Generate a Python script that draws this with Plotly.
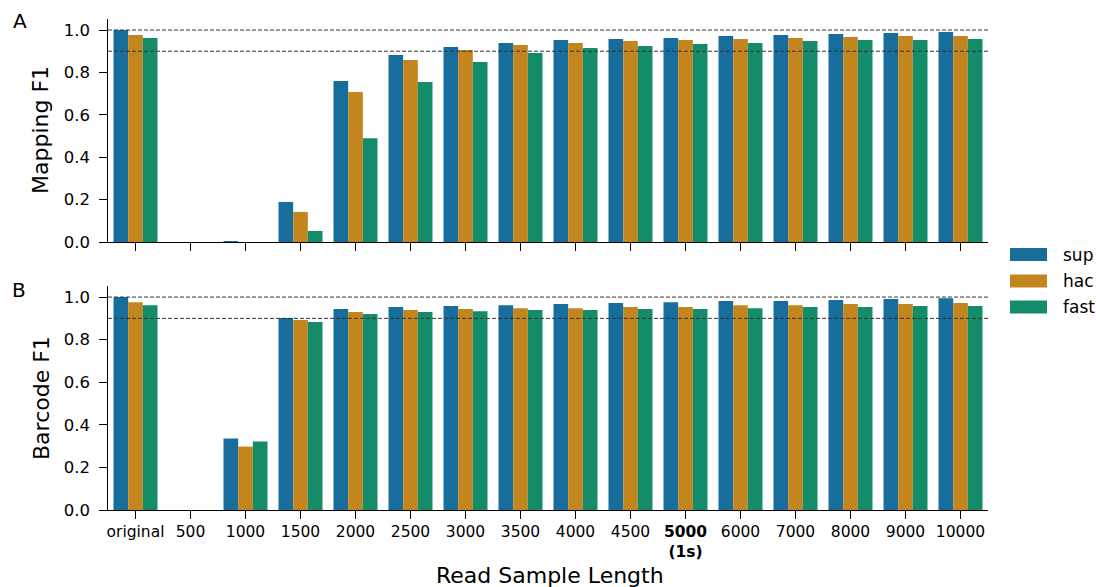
import plotly.graph_objects as go

categories = ["original", "500", "1000", "1500", "2000", "2500", "3000", "3500", "4000",
              "4500", "5000", "6000", "7000", "8000", "9000", "10000"]
tick_labels = ["original", "500", "1000", "1500", "2000", "2500", "3000", "3500", "4000",
               "4500", "<b>5000</b><br><b>(1s)</b>", "6000", "7000", "8000", "9000", "10000"]
series_names = ["sup", "hac", "fast"]
series_colors = ["#176d9c", "#c3861f", "#148c69"]

mapping_sup = [1.000, 0.0, 0.004, 0.189, 0.759, 0.882, 0.920, 0.939, 0.953, 0.958, 0.962, 0.972, 0.976, 0.981, 0.986, 0.991]
mapping_hac = [0.976, 0.0, 0.0, 0.142, 0.708, 0.858, 0.906, 0.929, 0.939, 0.948, 0.953, 0.958, 0.962, 0.967, 0.972, 0.972]
mapping_fast = [0.962, 0.0, 0.0, 0.052, 0.490, 0.755, 0.849, 0.892, 0.915, 0.925, 0.934, 0.939, 0.948, 0.953, 0.953, 0.958]

barcode_sup = [1.000, 0.0, 0.336, 0.902, 0.944, 0.953, 0.958, 0.962, 0.967, 0.972, 0.976, 0.981, 0.981, 0.986, 0.991, 0.995]
barcode_hac = [0.976, 0.0, 0.298, 0.892, 0.930, 0.939, 0.944, 0.948, 0.948, 0.953, 0.953, 0.962, 0.962, 0.967, 0.967, 0.972]
barcode_fast = [0.962, 0.0, 0.322, 0.883, 0.920, 0.930, 0.934, 0.939, 0.939, 0.944, 0.944, 0.948, 0.953, 0.953, 0.958, 0.958]

ref_lines = [1.0, 0.9]
y_ticks = [0.0, 0.2, 0.4, 0.6, 0.8, 1.0]

W, H = 1096, 587
FONT = "DejaVu Sans"

fig = go.Figure()
mapping = [mapping_sup, mapping_hac, mapping_fast]
barcode = [barcode_sup, barcode_hac, barcode_fast]
for i, name in enumerate(series_names):
    fig.add_trace(go.Bar(x=categories, y=mapping[i], name=name, marker_color=series_colors[i],
                         marker_line_width=0, xaxis="x", yaxis="y", showlegend=False))
for i, name in enumerate(series_names):
    fig.add_trace(go.Bar(x=categories, y=barcode[i], name=name, marker_color=series_colors[i],
                         marker_line_width=0, xaxis="x2", yaxis="y2", showlegend=False))

def px_x(p):
    return p / W

def px_y(p):
    return 1 - p / H

xdom = [px_x(108), px_x(988)]
axis_common = dict(showgrid=False, zeroline=False, showline=True, linecolor="black", linewidth=1.3,
                   ticks="outside", ticklen=7.5, tickwidth=1.3, tickcolor="black", automargin=False)
yaxis_common = dict(range=[0, 1.052], tickvals=y_ticks, tickformat=".1f", ticklabelstandoff=6,
                    tickfont=dict(size=16.5, family=FONT, color="black"), **axis_common)

fig.update_layout(
    template="none",
    width=W, height=H,
    margin=dict(l=0, r=0, t=0, b=0, pad=0),
    paper_bgcolor="white", plot_bgcolor="white",
    font=dict(family=FONT, color="black"),
    barmode="group", bargap=0.2, bargroupgap=0.0,
    showlegend=False,
    xaxis=dict(domain=xdom, anchor="y", type="category", categoryorder="array",
               categoryarray=categories, range=[-0.5, len(categories) - 0.5],
               showticklabels=False, **axis_common),
    yaxis=dict(domain=[px_y(242), px_y(19)], anchor="x", **yaxis_common),
    xaxis2=dict(domain=xdom, anchor="y2", type="category", categoryorder="array",
                categoryarray=categories, range=[-0.5, len(categories) - 0.5],
                tickvals=categories, ticktext=tick_labels,
                tickfont=dict(size=15.5, family=FONT, color="black"), **axis_common),
    yaxis2=dict(domain=[px_y(510), px_y(286)], anchor="x2", **yaxis_common),
)

shapes = []
for ya in ["y", "y2"]:
    xa = "x" if ya == "y" else "x2"
    for v in ref_lines:
        shapes.append(dict(type="line", xref=f"{xa} domain", yref=ya, x0=0, x1=1, y0=v, y1=v,
                           line=dict(color="#333333", width=1, dash="4px,2px"), layer="above"))

# legend patches
leg_y = [254.5, 281, 307]
annotations = []
for i, name in enumerate(series_names):
    shapes.append(dict(type="rect", xref="paper", yref="paper",
                       x0=px_x(1010), x1=px_x(1047), y0=px_y(leg_y[i] + 6.5), y1=px_y(leg_y[i] - 6.5),
                       fillcolor=series_colors[i], line=dict(width=0)))
    annotations.append(dict(xref="paper", yref="paper", x=px_x(1061), y=px_y(leg_y[i]),
                            text=name, showarrow=False, xanchor="left", yanchor="middle",
                            font=dict(size=17, family=FONT, color="black")))

annotations += [
    dict(xref="paper", yref="paper", x=px_x(41), y=px_y(130), text="Mapping F1", textangle=-90,
         showarrow=False, xanchor="center", yanchor="middle", font=dict(size=22, family=FONT)),
    dict(xref="paper", yref="paper", x=px_x(41), y=px_y(398), text="Barcode F1", textangle=-90,
         showarrow=False, xanchor="center", yanchor="middle", font=dict(size=22, family=FONT)),
    dict(xref="paper", yref="paper", x=px_x(550), y=px_y(575), text="Read Sample Length",
         showarrow=False, xanchor="center", yanchor="middle", font=dict(size=22, family=FONT)),
    dict(xref="paper", yref="paper", x=px_x(20), y=px_y(21), text="A",
         showarrow=False, xanchor="center", yanchor="middle", font=dict(size=20, family=FONT)),
    dict(xref="paper", yref="paper", x=px_x(19), y=px_y(290), text="B",
         showarrow=False, xanchor="center", yanchor="middle", font=dict(size=20, family=FONT)),
]

fig.update_layout(shapes=shapes, annotations=annotations)
post = "document.body.style.margin='0';document.body.style.overflow='hidden';"
fig.write_html("out.html", post_script=post, config={"displayModeBar": False})
